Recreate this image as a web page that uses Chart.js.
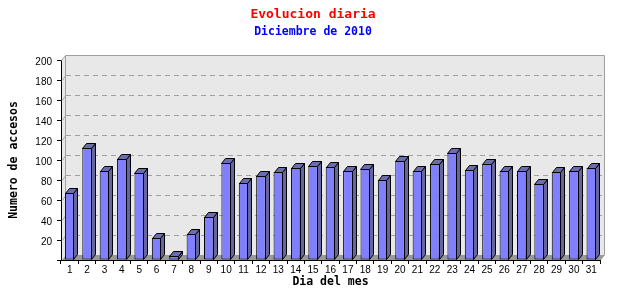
<!DOCTYPE html>
<html>
<head>
<meta charset="utf-8">
<script src="https://cdn.jsdelivr.net/npm/chart.js@4/dist/chart.umd.min.js"></script>
<style>
  html, body { margin: 0; padding: 0; background: #ffffff; }
  #wrap { width: 640px; height: 300px; }
</style>
</head>
<body>
<div id="wrap"><canvas id="c" width="640" height="300"></canvas></div>
<script>
// ---- data ----
const days = ['1','2','3','4','5','6','7','8','9','10','11','12','13','14','15','16','17','18','19','20','21','22','23','24','25','26','27','28','29','30','31'];
const accesos = [67,112,89,101,87,22,4,26,43,97,77,84,88,92,94,93,89,91,80,99,89,96,107,90,96,89,89,76,88,89,92];
const yTicks = [20,40,60,80,100,120,140,160,180,200];
const chartTitle = 'Evolucion diaria';
const chartSubtitle = 'Diciembre de 2010';
const yTitle = 'Numero de accesos';
const xTitle = 'Dia del mes';

// ---- 3D look ----
const DX = 4, DY = 5;
const WALL = '#e8e8e8', WALL_EDGE = '#a0a0a0', FLOOR = '#999999', GRID = '#a0a0a0';
const FRONT = '#8080ff', SIDE = '#66669c', TOP = '#6c6cb0';

function poly(ctx, pts, fill, stroke) {
  ctx.beginPath();
  ctx.moveTo(pts[0][0], pts[0][1]);
  for (let i = 1; i < pts.length; i++) ctx.lineTo(pts[i][0], pts[i][1]);
  ctx.closePath();
  if (fill) { ctx.fillStyle = fill; ctx.fill(); }
  if (stroke) { ctx.strokeStyle = stroke; ctx.lineWidth = 1; ctx.stroke(); }
}

const threeD = {
  id: 'threeD',
  beforeDatasetsDraw(chart) {
    const { ctx, chartArea: a, scales: { y } } = chart;
    const L = a.left + 1, R = a.right, T = a.top, B = a.bottom;
    ctx.save();
    // back wall + left side wall
    ctx.fillStyle = WALL;
    ctx.fillRect(L + DX - 1, T - DY, R - L + 1, B - T);
    poly(ctx, [[L, T], [L + DX, T - DY], [L + DX, B - DY], [L, B]], WALL, null);
    // grid lines on the back wall
    yTicks.forEach(v => {
      if (v >= 200) return;
      const py = Math.round(y.getPixelForValue(v)) + 0.5;
      ctx.strokeStyle = GRID; ctx.lineWidth = 1;
      ctx.setLineDash([]);
      ctx.beginPath(); ctx.moveTo(L, py); ctx.lineTo(L + DX, py - DY); ctx.stroke();
      ctx.setLineDash([5, 4]);
      ctx.beginPath(); ctx.moveTo(L + DX, py - DY); ctx.lineTo(R + DX, py - DY); ctx.stroke();
    });
    ctx.setLineDash([]);
    // wall edges
    ctx.strokeStyle = WALL_EDGE; ctx.lineWidth = 1;
    ctx.beginPath();
    ctx.moveTo(L - 0.5, T + 0.5); ctx.lineTo(L + DX - 0.5, T - DY + 0.5);
    ctx.lineTo(R + DX + 0.5, T - DY + 0.5);
    ctx.lineTo(R + DX + 0.5, B - DY);
    ctx.stroke();
    ctx.beginPath();
    ctx.moveTo(L + DX - 0.5, T - DY + 0.5); ctx.lineTo(L + DX - 0.5, B - DY);
    ctx.stroke();
    // floor
    poly(ctx, [[L, B], [L + DX, B - DY], [R + DX + 1, B - DY], [R + 1, B]], FLOOR, null);
    ctx.restore();
  },
  afterDatasetsDraw(chart) {
    const { ctx } = chart;
    const meta = chart.getDatasetMeta(0);
    ctx.save();
    ctx.lineJoin = 'miter';
    meta.data.forEach(bar => {
      const p = bar.getProps(['x', 'y', 'base', 'width'], true);
      const l = Math.round(p.x - p.width / 2) + 0.5;
      const r = Math.round(p.x + p.width / 2) - 0.5;
      const t = Math.round(p.y) + 0.5;
      const b = Math.round(p.base) - 0.5;
      poly(ctx, [[r, t], [r + DX, t - DY], [r + DX, b - DY], [r, b]], SIDE, '#000');
      poly(ctx, [[l, t], [l + DX, t - DY], [r + DX, t - DY], [r, t]], TOP, '#000');
    });
    ctx.restore();
  }
};

const monoBold = (size) => ({ family: '"DejaVu Sans Mono", "Liberation Mono", monospace', size: size, weight: 'bold', lineHeight: 1.2 });
const tickFont = { family: '"Liberation Sans", Arial, sans-serif', size: 10 };

new Chart(document.getElementById('c'), {
  type: 'bar',
  data: {
    labels: days,
    datasets: [{
      data: accesos,
      backgroundColor: FRONT,
      borderColor: '#000000',
      borderWidth: 1,
      borderSkipped: false,
      categoryPercentage: 1.0,
      barPercentage: 0.55
    }]
  },
  plugins: [threeD],
  options: {
    responsive: false,
    devicePixelRatio: 1,
    animation: false,
    layout: { padding: { left: 0, right: 14, top: 0, bottom: 0 } },
    plugins: {
      legend: { display: false },
      tooltip: { enabled: false },
      title: {
        display: true, text: chartTitle, color: '#ff0000',
        font: monoBold(13), padding: { top: 7, bottom: 2 }
      },
      subtitle: {
        display: true, text: chartSubtitle, color: '#0000ff',
        font: monoBold(11.5), padding: { top: 1, bottom: 20.6 }
      }
    },
    scales: {
      x: {
        afterFit(s) { s.height = 40; },
        grid: { display: true, offset: true, drawOnChartArea: false, drawTicks: true, tickLength: 4, color: '#000000' },
        border: { display: true, color: '#000000', width: 1 },
        ticks: { color: '#000000', font: tickFont, padding: 0, autoSkip: false, maxRotation: 0 },
        title: { display: true, text: xTitle, color: '#000000', font: monoBold(11.5), padding: { top: 0, bottom: 11 } }
      },
      y: {
        min: 0, max: 200,
        afterFit(s) { s.width = 61; },
        afterBuildTicks(s) { s.ticks = [0].concat(yTicks).map(v => ({ value: v })); },
        grid: { display: true, drawOnChartArea: false, drawTicks: true, tickLength: 4, color: '#000000' },
        border: { display: true, color: '#000000', width: 1 },
        ticks: {
          color: '#000000', font: tickFont, padding: 5, labelOffset: 2,
          callback: (v) => (v === 0 ? '' : String(v))
        },
        title: { display: true, text: yTitle, color: '#000000', font: monoBold(11.5), padding: { top: 7, bottom: 0 } }
      },
      yR: {
        position: 'right', display: true,
        afterFit(s) { s.width = 26; },
        grid: { display: false }, border: { display: false },
        ticks: { display: false }
      }
    }
  }
});
</script>
</body>
</html>
